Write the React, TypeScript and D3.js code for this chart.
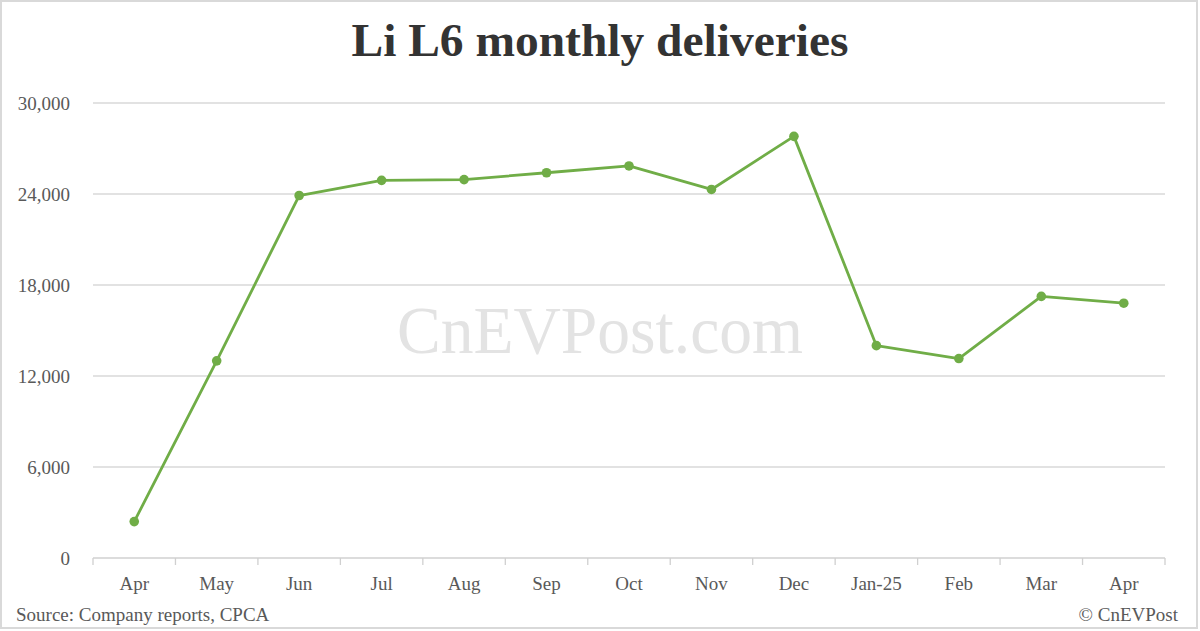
import * as React from 'react';
import * as d3 from 'd3';

const months = ['Apr', 'May', 'Jun', 'Jul', 'Aug', 'Sep', 'Oct', 'Nov', 'Dec', 'Jan-25', 'Feb', 'Mar', 'Apr'];
const deliveries = [2400, 13000, 23900, 24900, 24950, 25400, 25850, 24300, 27800, 14000, 13150, 17250, 16800];
const yTicks = [0, 6000, 12000, 18000, 24000, 30000];

const W = 1200;
const H = 631;
const FONT = '"Liberation Serif", "Times New Roman", serif';

export default function App() {
  const ref = React.useRef<SVGSVGElement>(null);

  React.useEffect(() => {
    const svg = d3.select(ref.current);
    svg.selectAll('*').remove();

    const margin = { top: 103, right: 35, bottom: 73, left: 93 };
    const width = W - margin.left - margin.right;
    const height = H - margin.top - margin.bottom;

    svg.append('rect')
      .attr('x', 1).attr('y', 1)
      .attr('width', W - 4).attr('height', H - 4)
      .attr('fill', '#fff')
      .attr('stroke', '#d9d9d9')
      .attr('stroke-width', 2);

    svg.append('text')
      .attr('x', W / 2)
      .attr('y', 56)
      .attr('text-anchor', 'middle')
      .attr('font-family', FONT)
      .attr('font-weight', 'bold')
      .attr('font-size', 47)
      .attr('fill', '#333')
      .attr('textLength', 497)
      .attr('lengthAdjust', 'spacingAndGlyphs')
      .text('Li L6 monthly deliveries');

    // watermark
    svg.append('text')
      .attr('x', W / 2)
      .attr('y', 353)
      .attr('text-anchor', 'middle')
      .attr('font-family', FONT)
      .attr('font-size', 67)
      .attr('fill', '#e3e3e3')
      .attr('textLength', 406)
      .attr('lengthAdjust', 'spacingAndGlyphs')
      .text('CnEVPost.com');

    const g = svg.append('g').attr('transform', `translate(${margin.left}, ${margin.top})`);

    const x = d3.scaleBand<number>()
      .domain(months.map((_, i) => i))
      .range([0, width]);

    const y = d3.scaleLinear()
      .domain([0, 30000])
      .range([height, 0]);

    // gridlines
    g.selectAll('.grid')
      .data(yTicks.filter(t => t > 0))
      .enter()
      .append('line')
      .attr('x1', 0).attr('x2', width)
      .attr('y1', d => y(d)).attr('y2', d => y(d))
      .attr('stroke', '#d9d9d9')
      .attr('stroke-width', 1.3);

    // y labels
    g.selectAll('.ylab')
      .data(yTicks)
      .enter()
      .append('text')
      .attr('x', -23)
      .attr('y', d => y(d))
      .attr('dy', '0.35em')
      .attr('text-anchor', 'end')
      .attr('font-family', FONT)
      .attr('font-size', 19)
      .attr('fill', '#595959')
      .text(d => d3.format(',')(d));

    // x axis
    g.append('line')
      .attr('x1', 0).attr('x2', width)
      .attr('y1', height).attr('y2', height)
      .attr('stroke', '#d0d0d0')
      .attr('stroke-width', 1.3);

    const bounds = d3.range(months.length + 1).map(i => i * x.bandwidth());
    g.selectAll('.xtick')
      .data(bounds)
      .enter()
      .append('line')
      .attr('x1', d => d).attr('x2', d => d)
      .attr('y1', height).attr('y2', height + 7)
      .attr('stroke', '#d0d0d0')
      .attr('stroke-width', 1.3);

    g.selectAll('.xlab')
      .data(months)
      .enter()
      .append('text')
      .attr('x', (d, i) => (x(i) as number) + x.bandwidth() / 2)
      .attr('y', height + 32)
      .attr('text-anchor', 'middle')
      .attr('font-family', FONT)
      .attr('font-size', 19)
      .attr('fill', '#595959')
      .text(d => d);

    const cx = (i: number) => (x(i) as number) + x.bandwidth() / 2;

    const line = d3.line<number>()
      .x((d, i) => cx(i))
      .y(d => y(d));

    g.append('path')
      .datum(deliveries)
      .attr('d', line)
      .attr('fill', 'none')
      .attr('stroke', '#70ad47')
      .attr('stroke-width', 2.8)
      .attr('stroke-linejoin', 'round');

    g.selectAll('.dot')
      .data(deliveries)
      .enter()
      .append('circle')
      .attr('cx', (d, i) => cx(i))
      .attr('cy', d => y(d))
      .attr('r', 4.8)
      .attr('fill', '#70ad47');

    svg.append('text')
      .attr('x', 16)
      .attr('y', 621)
      .attr('font-family', FONT)
      .attr('font-size', 19)
      .attr('fill', '#595959')
      .text('Source: Company reports, CPCA');

    svg.append('text')
      .attr('x', 1178)
      .attr('y', 621)
      .attr('text-anchor', 'end')
      .attr('font-family', FONT)
      .attr('font-size', 19)
      .attr('fill', '#595959')
      .text('© CnEVPost');
  }, []);

  return (
    <svg
      ref={ref}
      width={W}
      height={H}
      style={{ position: 'absolute', left: 0, top: 0, display: 'block' }}
    />
  );
}
